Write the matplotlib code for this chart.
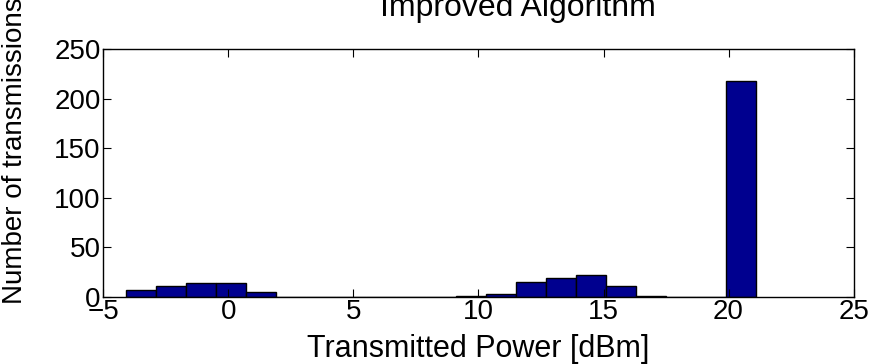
import numpy as np
import matplotlib
matplotlib.use('Agg')
import matplotlib.pyplot as plt

# histogram of transmit power
bin_start = -4.1
bin_width = 1.2
counts = [7, 11, 14, 14, 5, 0, 0, 0, 0, 0, 0,
          1, 3, 15, 19, 22, 11, 1, 0, 0, 218]
xticks = [-5, 0, 5, 10, 15, 20, 25]
yticks = [0, 50, 100, 150, 200, 250]

plt.rcParams['font.family'] = ['Liberation Sans', 'DejaVu Sans']

fig = plt.figure(figsize=(8.91, 3.64), dpi=100)
ax = fig.add_axes([0.116, 0.185, 0.842, 0.68])

edges = bin_start + bin_width*np.arange(len(counts))
ax.bar(edges, counts, width=bin_width, align='edge',
       color='#00008f', edgecolor='black', linewidth=1)

ax.set_xlim(-5, 25)
ax.set_ylim(0, 250)
ax.set_xticks(xticks)
ax.set_yticks(yticks)
ax.tick_params(direction='in', top=True, right=True, length=6,
               labelsize=20, pad=2)
for s in ax.spines.values():
    s.set_linewidth(1)

ax.set_title('Improved Algorithm', fontsize=23, pad=24, x=0.553)
ax.set_xlabel('Transmitted Power [dBm]', fontsize=22, labelpad=6)
ax.set_ylabel('Number of transmissions', fontsize=20)
ax.yaxis.set_label_coords(-0.1, 0.59)

fig.savefig('out.png', dpi=100)
